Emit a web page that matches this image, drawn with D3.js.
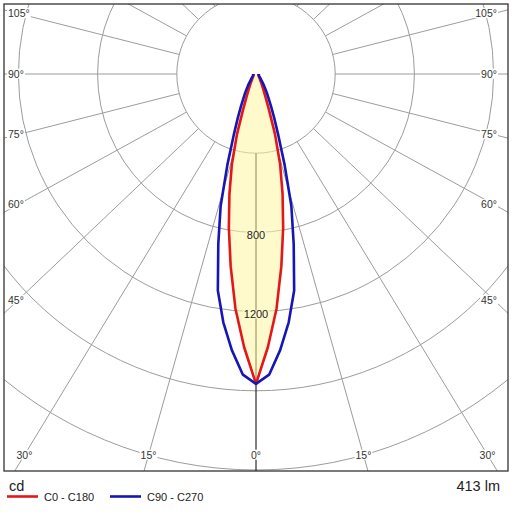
<!DOCTYPE html>
<html>
<head>
<meta charset="utf-8">
<script src="https://d3js.org/d3.v7.min.js"></script>
<style>
  body { margin: 0; background: #fff; }
  svg { display: block; font-family: "Liberation Sans", Arial, sans-serif; }
  .ring, .spoke { fill: none; stroke: #9c9c9c; stroke-width: 1px; }
  .axis0 { stroke: #000; stroke-width: 1px; }
  .angleLabel { font-size: 10.5px; fill: #333; }
  .ringLabel { font-size: 11px; fill: #222; }
</style>
</head>
<body>
<svg width="512" height="512"></svg>
<script>
// gamma angles (deg from nadir) and intensities (cd) for both C-planes
var angles  = [0, 2.5, 5, 7.5, 10, 12.5, 15, 17.5, 20, 22.5, 25, 30, 35, 40, 45, 50, 60, 70, 80, 90];
var c0c180  = [1565, 1380, 1190, 980, 790, 620, 470, 320, 190, 125, 90, 55, 37, 28, 22, 18, 15, 13, 12, 12];
var c90c270 = [1565, 1520, 1400, 1265, 1110, 880, 690, 480, 330, 240, 180, 110, 70, 45, 32, 25, 18, 15, 15, 15];

var rings = [400, 800, 1200, 1600, 2000];
var ringLabels = [800, 1200];
var spokeAngles = d3.range(15, 360, 15);
var labelAngles = [0, 15, 30, 45, 60, 75, 90, 105];
var seriesNames = ["C0 - C180", "C90 - C270"];
var seriesColors = ["#e3161b", "#1616b4"];
var unitLabel = "cd";
var fluxLabel = "413 lm";

var svg = d3.select("svg");
var frame = {x0: 4, y0: 4, x1: 508, y1: 471};
var cx = 256, cy = 74;
var rad = d3.scaleLinear().domain([0, 2000]).range([0, 396]);
var toRad = Math.PI / 180;
// the source draws its spokes slightly flattened vertically
var spokeAspect = 0.95;

function spokeDir(a) {
  var dx = Math.sin(a * toRad), dy = spokeAspect * Math.cos(a * toRad);
  var n = Math.hypot(dx, dy);
  return [dx / n, dy / n];
}

svg.append("clipPath").attr("id", "plotClip")
  .append("rect")
  .attr("x", frame.x0).attr("y", frame.y0)
  .attr("width", frame.x1 - frame.x0).attr("height", frame.y1 - frame.y0);

var plot = svg.append("g").attr("clip-path", "url(#plotClip)");
var g = plot.append("g").attr("transform", `translate(${cx}, ${cy})`);

// grid circles
g.selectAll(".ring").data(rings).enter().append("circle")
  .attr("class", "ring")
  .attr("r", d => rad(d));

// spokes start at the first ring
g.selectAll(".spoke").data(spokeAngles).enter().append("line")
  .attr("class", "spoke")
  .attr("x1", d => rad(rings[0]) * spokeDir(d)[0])
  .attr("y1", d => rad(rings[0]) * spokeDir(d)[1])
  .attr("x2", d => 700 * spokeDir(d)[0])
  .attr("y2", d => 700 * spokeDir(d)[1]);

// angle labels where spokes meet the frame
var sideX = cx - (frame.x0 + 14);
var bottomY = frame.y1 - 16;
var labelData = [];
labelAngles.forEach(function(a) {
  [-1, 1].forEach(function(s) {
    if (a === 0 && s < 0) return;
    var dir = spokeDir(a), sn = dir[0], cs = dir[1];
    var tSide = sn > 0 ? sideX / sn : Infinity;
    var tBottom = cs > 0 ? (bottomY - cy) / cs : Infinity;
    if (tSide < tBottom) {
      labelData.push({text: a + "°", x: s < 0 ? frame.x0 + 4 : frame.x1 - 11,
        y: cy + tSide * cs, anchor: s < 0 ? "start" : "end"});
    } else {
      labelData.push({text: a + "°", x: cx + s * tBottom * sn, y: bottomY, anchor: "middle"});
    }
  });
});

var labels = plot.append("g");
var lbl = labels.selectAll("g").data(labelData).enter().append("g");
lbl.append("rect").attr("fill", "#fff");
lbl.append("text")
  .attr("class", "angleLabel")
  .attr("x", d => d.x).attr("y", d => d.y)
  .attr("dy", "0.35em")
  .attr("text-anchor", d => d.anchor)
  .text(d => d.text);
lbl.each(function() {
  var b = d3.select(this).select("text").node().getBBox();
  d3.select(this).select("rect")
    .attr("x", b.x - 1).attr("y", b.y + 1)
    .attr("width", b.width + 2).attr("height", b.height - 2);
});

// nadir axis
g.append("line").attr("class", "axis0")
  .attr("x1", 0).attr("y1", rad(rings[0]))
  .attr("x2", 0).attr("y2", frame.y1 - cy);

// curves
function curvePoints(values) {
  var left = angles.map((a, i) => [Math.PI + a * toRad, rad(values[i])]).reverse();
  var right = angles.map((a, i) => [Math.PI - a * toRad, rad(values[i])]);
  return left.concat(right.slice(1));
}
var radial = d3.lineRadial().angle(d => d[0]).radius(d => d[1]);

g.append("path")
  .attr("d", radial(curvePoints(c0c180)) + "Z")
  .attr("fill", "#fff5a0")
  .attr("fill-opacity", 0.55)
  .attr("stroke", "none");

var rl = g.selectAll(".rl").data(ringLabels).enter().append("g");
rl.append("text")
  .attr("class", "ringLabel")
  .attr("x", 0).attr("y", d => rad(d) + 3)
  .attr("dy", "0.35em")
  .attr("text-anchor", "middle")
  .text(d => d);
rl.insert("rect", "text").attr("fill", "#fffacb");
rl.each(function() {
  var b = d3.select(this).select("text").node().getBBox();
  d3.select(this).select("rect")
    .attr("x", b.x - 1).attr("y", b.y + 2)
    .attr("width", b.width + 2).attr("height", b.height - 4);
});

[c0c180, c90c270].forEach(function(vals, i) {
  g.append("path")
    .attr("d", radial(curvePoints(vals)))
    .attr("fill", "none")
    .attr("stroke", seriesColors[i])
    .attr("stroke-width", 2.6)
    .attr("stroke-linejoin", "round");
});

// frame
svg.append("rect")
  .attr("x", frame.x0).attr("y", frame.y0)
  .attr("width", frame.x1 - frame.x0).attr("height", frame.y1 - frame.y0)
  .attr("fill", "none").attr("stroke", "#333").attr("stroke-width", 1.3);

// footer
svg.append("text").attr("x", 9).attr("y", 491)
  .attr("font-size", "14.5px").attr("fill", "#222").text(unitLabel);
svg.append("text").attr("x", 500).attr("y", 491).attr("text-anchor", "end")
  .attr("font-size", "14.5px").attr("fill", "#222").text(fluxLabel);

var legendX = [7, 110];
seriesNames.forEach(function(name, i) {
  svg.append("line")
    .attr("x1", legendX[i]).attr("x2", legendX[i] + 31)
    .attr("y1", 496.5).attr("y2", 496.5)
    .attr("stroke", seriesColors[i]).attr("stroke-width", 2.6);
  svg.append("text")
    .attr("x", legendX[i] + 37).attr("y", 500.5)
    .attr("font-size", "11px").attr("fill", "#222")
    .text(name);
});
</script>
</body>
</html>
